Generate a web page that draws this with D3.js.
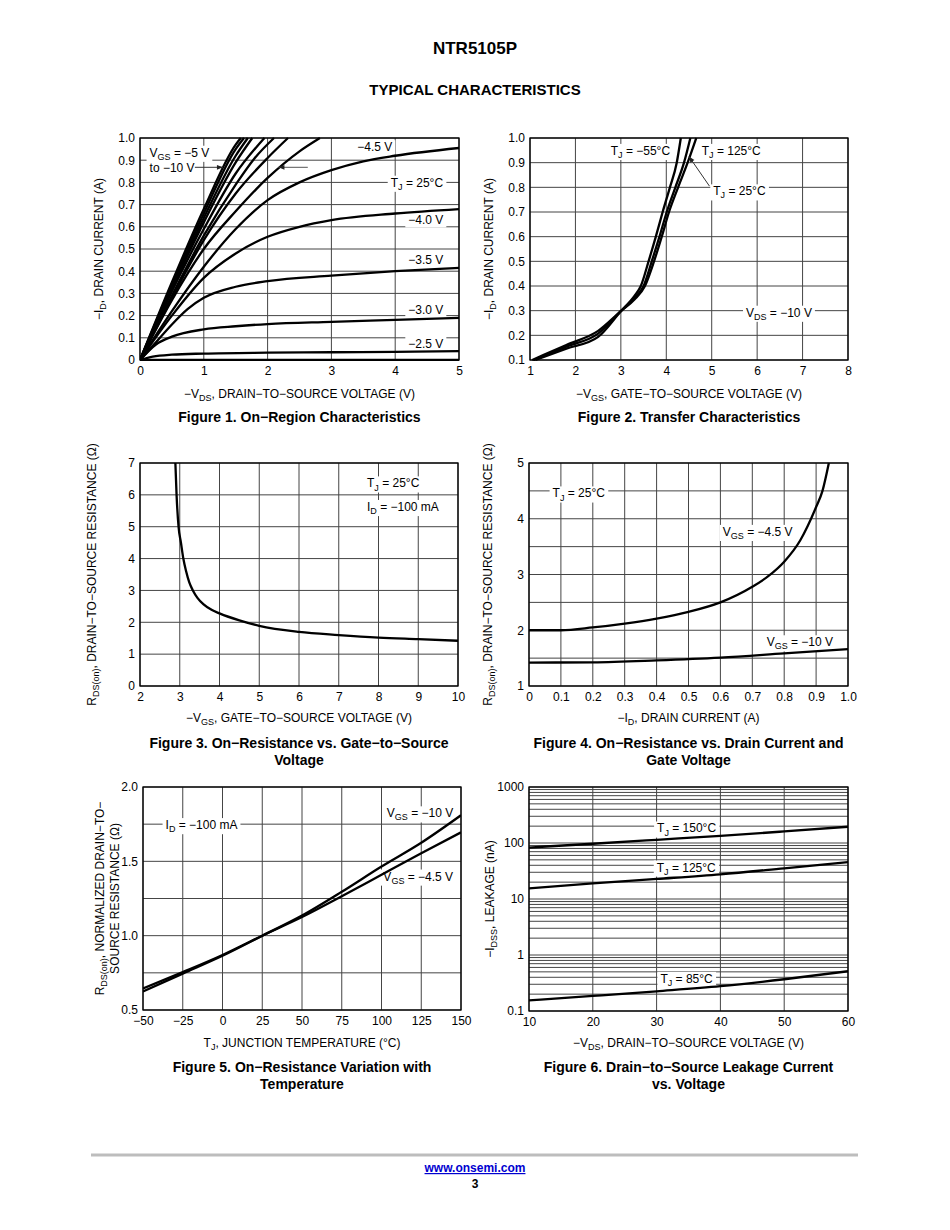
<!DOCTYPE html>
<html>
<head>
<meta charset="utf-8">
<script src="https://cdn.jsdelivr.net/npm/d3@7"></script>
<style>
  body { margin: 0; background: #fff; }
  svg { display: block; }
</style>
</head>
<body>
<div id="page"></div>
<script>
const FONT = '"Liberation Sans", Arial, Helvetica, sans-serif';

// Figure 1: -ID vs -VDS, one curve per VGS  ([VDS, ID] pairs)
const f1_vgsOff = [[0, 0], [5, 0]];
const f1_vgs2p5 = [[0, 0], [0.2, 0.015], [0.5, 0.024], [1, 0.029], [2, 0.033], [3, 0.035], [4, 0.037], [5, 0.04]];
const f1_vgs3p0 = [[0, 0], [0.25, 0.07], [0.5, 0.105], [1, 0.138], [1.5, 0.152], [2, 0.162], [3, 0.172], [4, 0.181], [5, 0.19]];
const f1_vgs3p5 = [[0, 0], [0.25, 0.08], [0.5, 0.16], [0.75, 0.23], [1, 0.28], [1.5, 0.33], [2, 0.355], [3, 0.38], [4, 0.4], [5, 0.415]];
const f1_vgs4p0 = [[0, 0], [0.5, 0.2], [1, 0.37], [1.5, 0.48], [2, 0.555], [2.5, 0.6], [3, 0.63], [4, 0.66], [5, 0.68]];
const f1_vgs4p5 = [[0, 0], [0.5, 0.22], [1, 0.42], [1.5, 0.59], [2, 0.72], [2.5, 0.8], [3, 0.855], [3.5, 0.895], [4, 0.92], [5, 0.955]];
const f1_vgs5p0 = [[0, 0], [0.5, 0.27], [1, 0.5], [1.5, 0.67], [2, 0.82], [2.5, 0.94], [2.82, 1.0]];
const f1_vgs5p5 = [[0, 0], [0.5, 0.28], [1, 0.54], [1.5, 0.75], [2, 0.91], [2.32, 1.0]];
const f1_vgs6p0 = [[0, 0], [0.5, 0.29], [1, 0.56], [1.5, 0.79], [1.8, 0.91], [2.1, 1.0]];
const f1_vgs6p5 = [[0, 0], [0.5, 0.31], [1, 0.59], [1.5, 0.84], [1.95, 1.0]];
const f1_vgs7p0 = [[0, 0], [0.5, 0.32], [1, 0.62], [1.5, 0.89], [1.76, 1.0]];
const f1_vgs8p0 = [[0, 0], [0.5, 0.33], [1, 0.64], [1.5, 0.92], [1.69, 1.0]];
const f1_vgs9p0 = [[0, 0], [0.5, 0.34], [1, 0.66], [1.5, 0.95], [1.63, 1.0]];
const f1_vgs10 = [[0, 0], [0.5, 0.35], [1, 0.68], [1.5, 0.97], [1.58, 1.0]];

// Figure 2: -ID vs -VGS per junction temperature ([VGS, ID] pairs)
const f2_tjm55 = [[1.12, 0.1], [1.8, 0.146], [2.5, 0.194], [3, 0.298], [3.3, 0.36], [3.44, 0.4], [3.61, 0.5], [3.77, 0.6], [3.92, 0.7], [4.08, 0.8], [4.23, 0.9], [4.32, 1.0]];
const f2_tj25 = [[1.08, 0.1], [1.8, 0.154], [2.5, 0.207], [3, 0.298], [3.3, 0.35], [3.5, 0.4], [3.68, 0.5], [3.85, 0.6], [4.01, 0.7], [4.2, 0.8], [4.39, 0.9], [4.53, 1.0]];
const f2_tj125 = [[1.05, 0.1], [1.8, 0.161], [2.5, 0.218], [3, 0.298], [3.3, 0.345], [3.53, 0.4], [3.73, 0.5], [3.9, 0.6], [4.06, 0.7], [4.26, 0.8], [4.47, 0.9], [4.66, 1.0]];

// Figure 3: RDS(on) vs -VGS
const f3_vgs = [2.89, 2.92, 2.97, 3.03, 3.09, 3.16, 3.24, 3.33, 3.45, 3.6, 3.8, 4, 4.5, 5, 6, 7, 8, 9, 10];
const f3_rds = [7, 6, 5, 4.5, 4, 3.6, 3.25, 3.0, 2.76, 2.56, 2.39, 2.28, 2.06, 1.89, 1.7, 1.6, 1.52, 1.47, 1.42];

// Figure 4: RDS(on) vs -ID
const f4_id45 = [0, 0.1, 0.2, 0.3, 0.4, 0.5, 0.6, 0.7, 0.75, 0.8, 0.85, 0.9, 0.92, 0.94];
const f4_rds45 = [2.0, 2.0, 2.05, 2.12, 2.21, 2.33, 2.5, 2.78, 2.97, 3.23, 3.61, 4.21, 4.5, 5.0];
const f4_id10 = [0, 0.2, 0.4, 0.6, 0.8, 1.0];
const f4_rds10 = [1.42, 1.425, 1.46, 1.51, 1.585, 1.66];

// Figure 5: normalized RDS(on) vs TJ
const f5_tj = [-50, -25, 0, 25, 50, 75, 100, 125, 150];
const f5_rds10 = [0.625, 0.745, 0.865, 1.0, 1.135, 1.295, 1.465, 1.625, 1.81];
const f5_rds45 = [0.645, 0.755, 0.87, 1.0, 1.125, 1.265, 1.41, 1.555, 1.695];

// Figure 6: -IDSS leakage (nA) vs -VDS
const f6_vds = [10, 20, 30, 40, 50, 60];
const f6_i150 = [83, 97, 114, 134, 161, 195];
const f6_i125 = [15.5, 19, 22.8, 27.6, 35.3, 45.4];
const f6_i85 = [0.155, 0.186, 0.225, 0.277, 0.369, 0.513];

// tick / grid values
const f1_xTicks = [0, 1, 2, 3, 4, 5];
const f1_yTicks = [0, 0.1, 0.2, 0.3, 0.4, 0.5, 0.6, 0.7, 0.8, 0.9, 1.0];
const f2_xTicks = [1, 2, 3, 4, 5, 6, 7, 8];
const f2_yTicks = [0.1, 0.2, 0.3, 0.4, 0.5, 0.6, 0.7, 0.8, 0.9, 1.0];
const f3_xTicks = [2, 3, 4, 5, 6, 7, 8, 9, 10];
const f3_yTicks = [0, 1, 2, 3, 4, 5, 6, 7];
const f4_xTicks = [0, 0.1, 0.2, 0.3, 0.4, 0.5, 0.6, 0.7, 0.8, 0.9, 1.0];
const f4_yTicks = [1, 2, 3, 4, 5];
const f4_yGrid = [1, 1.5, 2, 2.5, 3, 3.5, 4, 4.5, 5];
const f5_xTicks = [-50, -25, 0, 25, 50, 75, 100, 125, 150];
const f5_yTicks = [0.5, 1.0, 1.5, 2.0];
const f5_yGrid = [0.5, 0.75, 1.0, 1.25, 1.5, 1.75, 2.0];
const f6_xTicks = [10, 20, 30, 40, 50, 60];
const f6_yTicks = [0.1, 1, 10, 100, 1000];

const svg = d3.select("#page").append("svg")
  .attr("width", 950).attr("height", 1230)
  .attr("font-family", FONT);

svg.append("defs").append("marker")
  .attr("id", "arrow")
  .attr("viewBox", "0 0 10 10")
  .attr("refX", 10).attr("refY", 5)
  .attr("markerUnits", "userSpaceOnUse")
  .attr("markerWidth", 8).attr("markerHeight", 6)
  .attr("orient", "auto")
  .append("path").attr("d", "M0,1L10,5L0,9Z").attr("fill", "#222");

// text with _{subscript} markup
function rich(t, str, fs) {
  const sh = fs * 0.26;
  let down = false;
  str.split(/(_\{[^}]*\})/).filter(p => p.length).forEach(p => {
    if (p.startsWith("_{")) {
      t.append("tspan").attr("dy", sh).attr("font-size", fs * 0.75).text(p.slice(2, -1));
      down = true;
    } else {
      const ts = t.append("tspan").text(p);
      if (down) ts.attr("dy", -sh);
      down = false;
    }
  });
  return t;
}

function panel(box, xs, ys, o) {
  const g = svg.append("g");
  const grid = g.append("g").attr("stroke", "#454545").attr("stroke-width", 1);
  grid.selectAll("line.v").data(o.xGrid).join("line").attr("class", "v")
    .attr("x1", d => xs(d)).attr("x2", d => xs(d)).attr("y1", box.t).attr("y2", box.b);
  grid.selectAll("line.h").data(o.yGrid).join("line").attr("class", "h")
    .attr("y1", d => ys(d)).attr("y2", d => ys(d)).attr("x1", box.l).attr("x2", box.r);

  // white boxes go under all note texts
  const bg = g.append("g");
  const notes = g.append("g");
  notes.bg = bg;
  const id = "clip" + Math.round(box.l) + "_" + Math.round(box.t);
  svg.select("defs").append("clipPath").attr("id", id)
    .append("rect").attr("x", box.l).attr("y", box.t - 1)
    .attr("width", box.r - box.l).attr("height", box.b - box.t + 2);
  g.append("rect").attr("x", box.l).attr("y", box.t)
    .attr("width", box.r - box.l).attr("height", box.b - box.t)
    .attr("fill", "none").attr("stroke", "#000").attr("stroke-width", 1.3);
  const curves = g.append("g").attr("clip-path", `url(#${id})`)
    .attr("fill", "none").attr("stroke", "#000").attr("stroke-width", 2.3)
    .attr("stroke-linejoin", "round");

  const ax = g.append("g").attr("transform", `translate(0,${box.b})`)
    .call(d3.axisBottom(xs).tickValues(o.xTicks).tickFormat(o.xFmt).tickSize(0).tickPadding(6));
  ax.select(".domain").remove();
  ax.attr("font-size", 12).attr("font-family", FONT);
  const ay = g.append("g").attr("transform", `translate(${box.l},0)`)
    .call(d3.axisLeft(ys).tickValues(o.yTicks).tickFormat(o.yFmt).tickSize(0).tickPadding(5));
  ay.select(".domain").remove();
  ay.attr("font-size", 12).attr("font-family", FONT);

  // axis titles
  rich(g.append("text").attr("x", (box.l + box.r) / 2).attr("y", o.xTitleY)
    .attr("text-anchor", "middle").attr("font-size", 12), o.xTitle, 12);
  o.yTitle.forEach((s, i) => {
    rich(g.append("text")
      .attr("transform", `translate(${o.yTitleX[i]},${(box.t + box.b) / 2}) rotate(-90)`)
      .attr("text-anchor", "middle").attr("font-size", 12), s, 12);
  });
  // caption
  o.caption.forEach((s, i) => {
    g.append("text").attr("x", (box.l + box.r) / 2).attr("y", o.captionY + i * 17)
      .attr("text-anchor", "middle").attr("font-size", 14).attr("font-weight", "bold").text(s);
  });
  return { g, notes, curves };
}

function note(sel, x, y, str, anchor) {
  const t = sel.append("text").attr("x", x).attr("y", y).attr("dy", "0.36em")
    .attr("text-anchor", anchor || "middle").attr("font-size", 12);
  rich(t, str, 12);
  const bb = t.node().getBBox();
  sel.bg.append("rect")
    .attr("x", bb.x - 3).attr("y", bb.y).attr("width", bb.width + 6).attr("height", bb.height)
    .attr("fill", "#fff");
}

const fmt1 = d => d === 0 ? "0" : d3.format(".1f")(d);
const fmtG = d => String(d);

// ---- header / footer
svg.append("text").attr("x", 475).attr("y", 54).attr("text-anchor", "middle")
  .attr("font-size", 17).attr("font-weight", "bold").text("NTR5105P");
svg.append("text").attr("x", 475).attr("y", 95).attr("text-anchor", "middle")
  .attr("font-size", 15).attr("font-weight", "bold").text("TYPICAL CHARACTERISTICS");
svg.append("line").attr("x1", 91).attr("x2", 858).attr("y1", 1155).attr("y2", 1155)
  .attr("stroke", "#bdbdbd").attr("stroke-width", 3);
svg.append("text").attr("x", 475).attr("y", 1172).attr("text-anchor", "middle")
  .attr("font-size", 12).attr("font-weight", "bold").attr("fill", "#0000d0")
  .attr("text-decoration", "underline").text("www.onsemi.com");
svg.append("text").attr("x", 475).attr("y", 1188).attr("text-anchor", "middle")
  .attr("font-size", 12).attr("font-weight", "bold").text("3");

const pathOf = (xs, ys) => d3.line().x(d => xs(d[0])).y(d => ys(d[1])).curve(d3.curveMonotoneX);

// ---- Figure 1
{
  const box = { l: 140, r: 459, t: 138, b: 360 };
  const xs = d3.scaleLinear([0, 5], [box.l, box.r]);
  const ys = d3.scaleLinear([0, 1], [box.b, box.t]);
  const p = panel(box, xs, ys, {
    xGrid: f1_xTicks, yGrid: f1_yTicks, xTicks: f1_xTicks, yTicks: f1_yTicks,
    xFmt: fmtG, yFmt: fmt1,
    xTitle: "\u2212V_{DS}, DRAIN\u2212TO\u2212SOURCE VOLTAGE (V)", xTitleY: 398,
    yTitle: ["\u2212I_{D}, DRAIN CURRENT (A)"], yTitleX: [103],
    caption: ["Figure 1. On\u2212Region Characteristics"], captionY: 422
  });
  note(p.notes, xs(0.15), ys(0.935), "V_{GS} = \u22125 V", "start");
  note(p.notes, xs(0.15), ys(0.866), "to \u221210 V", "start");
  note(p.notes, xs(3.68), ys(0.96), "\u22124.5 V");
  note(p.notes, xs(4.34), ys(0.80), "T_{J} = 25\u00b0C");
  note(p.notes, xs(4.48), ys(0.63), "\u22124.0 V");
  note(p.notes, xs(4.48), ys(0.45), "\u22123.5 V");
  note(p.notes, xs(4.48), ys(0.225), "\u22123.0 V");
  note(p.notes, xs(4.48), ys(0.075), "\u22122.5 V");
  const curves = [f1_vgsOff, f1_vgs2p5, f1_vgs3p0, f1_vgs3p5, f1_vgs4p0, f1_vgs4p5,
    f1_vgs5p0, f1_vgs5p5, f1_vgs6p0, f1_vgs6p5, f1_vgs7p0, f1_vgs8p0, f1_vgs9p0, f1_vgs10];
  p.curves.selectAll("path").data(curves).join("path").attr("d", pathOf(xs, ys));
  p.g.append("line").attr("x1", xs(0.86)).attr("x2", xs(1.3)).attr("y1", ys(0.868)).attr("y2", ys(0.868))
    .attr("stroke", "#333").attr("stroke-width", 1).attr("marker-end", "url(#arrow)");
  p.g.append("line").attr("x1", xs(2.63)).attr("x2", xs(2.17)).attr("y1", ys(0.868)).attr("y2", ys(0.868))
    .attr("stroke", "#555").attr("stroke-width", 1).attr("marker-end", "url(#arrow)");
}

// ---- Figure 2
{
  const box = { l: 530, r: 848, t: 138, b: 360 };
  const xs = d3.scaleLinear([1, 8], [box.l, box.r]);
  const ys = d3.scaleLinear([0.1, 1], [box.b, box.t]);
  const p = panel(box, xs, ys, {
    xGrid: f2_xTicks, yGrid: f2_yTicks, xTicks: f2_xTicks, yTicks: f2_yTicks,
    xFmt: fmtG, yFmt: fmt1,
    xTitle: "\u2212V_{GS}, GATE\u2212TO\u2212SOURCE VOLTAGE (V)", xTitleY: 398,
    yTitle: ["\u2212I_{D}, DRAIN CURRENT (A)"], yTitleX: [493],
    caption: ["Figure 2. Transfer Characteristics"], captionY: 422
  });
  note(p.notes, xs(3.43), ys(0.949), "T_{J} = \u221255\u00b0C");
  note(p.notes, xs(5.43), ys(0.949), "T_{J} = 125\u00b0C");
  note(p.notes, xs(5.61), ys(0.785), "T_{J} = 25\u00b0C");
  note(p.notes, xs(6.48), ys(0.293), "V_{DS} = \u221210 V");
  p.curves.selectAll("path").data([f2_tjm55, f2_tj25, f2_tj125]).join("path").attr("d", pathOf(xs, ys));
  p.g.append("line").attr("x1", xs(4.95)).attr("y1", ys(0.805)).attr("x2", xs(4.5)).attr("y2", ys(0.925))
    .attr("stroke", "#333").attr("stroke-width", 1).attr("marker-end", "url(#arrow)");
}

// ---- Figure 3
{
  const box = { l: 140, r: 458, t: 463, b: 686 };
  const xs = d3.scaleLinear([2, 10], [box.l, box.r]);
  const ys = d3.scaleLinear([0, 7], [box.b, box.t]);
  const p = panel(box, xs, ys, {
    xGrid: f3_xTicks, yGrid: f3_yTicks, xTicks: f3_xTicks, yTicks: f3_yTicks,
    xFmt: fmtG, yFmt: fmtG,
    xTitle: "\u2212V_{GS}, GATE\u2212TO\u2212SOURCE VOLTAGE (V)", xTitleY: 722,
    yTitle: ["R_{DS(on)}, DRAIN\u2212TO\u2212SOURCE RESISTANCE (\u03a9)"], yTitleX: [96],
    caption: ["Figure 3. On\u2212Resistance vs. Gate\u2212to\u2212Source", "Voltage"], captionY: 748
  });
  note(p.notes, xs(7.71), ys(6.37), "T_{J} = 25\u00b0C", "start");
  note(p.notes, xs(7.71), ys(5.63), "I_{D} = \u2212100 mA", "start");
  p.curves.append("path").attr("d", pathOf(xs, ys)(d3.zip(f3_vgs, f3_rds)));
}

// ---- Figure 4
{
  const box = { l: 529, r: 848, t: 463, b: 686 };
  const xs = d3.scaleLinear([0, 1], [box.l, box.r]);
  const ys = d3.scaleLinear([1, 5], [box.b, box.t]);
  const p = panel(box, xs, ys, {
    xGrid: f4_xTicks, yGrid: f4_yGrid, xTicks: f4_xTicks, yTicks: f4_yTicks,
    xFmt: fmt1, yFmt: fmtG,
    xTitle: "\u2212I_{D}, DRAIN CURRENT (A)", xTitleY: 722,
    yTitle: ["R_{DS(on)}, DRAIN\u2212TO\u2212SOURCE RESISTANCE (\u03a9)"], yTitleX: [492],
    caption: ["Figure 4. On\u2212Resistance vs. Drain Current and", "Gate Voltage"], captionY: 748
  });
  note(p.notes, xs(0.156), ys(4.46), "T_{J} = 25\u00b0C");
  note(p.notes, xs(0.717), ys(3.77), "V_{GS} = \u22124.5 V");
  note(p.notes, xs(0.849), ys(1.79), "V_{GS} = \u221210 V");
  p.curves.selectAll("path")
    .data([d3.zip(f4_id45, f4_rds45), d3.zip(f4_id10, f4_rds10)])
    .join("path").attr("d", pathOf(xs, ys));
}

// ---- Figure 5
{
  const box = { l: 143, r: 461, t: 787, b: 1010 };
  const xs = d3.scaleLinear([-50, 150], [box.l, box.r]);
  const ys = d3.scaleLinear([0.5, 2], [box.b, box.t]);
  const p = panel(box, xs, ys, {
    xGrid: f5_xTicks, yGrid: f5_yGrid, xTicks: f5_xTicks, yTicks: f5_yTicks,
    xFmt: d3.format("d"), yFmt: d3.format(".1f"),
    xTitle: "T_{J}, JUNCTION TEMPERATURE (\u00b0C)", xTitleY: 1047,
    yTitle: ["R_{DS(on)}, NORMALIZED DRAIN\u2212TO\u2212", "SOURCE RESISTANCE (\u03a9)"], yTitleX: [104, 119],
    caption: ["Figure 5. On\u2212Resistance Variation with", "Temperature"], captionY: 1072
  });
  note(p.notes, xs(-13.2), ys(1.746), "I_{D} = \u2212100 mA");
  note(p.notes, xs(124.2), ys(1.825), "V_{GS} = \u221210 V");
  note(p.notes, xs(123.1), ys(1.40), "V_{GS} = \u22124.5 V");
  p.curves.selectAll("path")
    .data([d3.zip(f5_tj, f5_rds10), d3.zip(f5_tj, f5_rds45)])
    .join("path").attr("d", pathOf(xs, ys));
}

// ---- Figure 6
{
  const box = { l: 529, r: 848, t: 787, b: 1011 };
  const xs = d3.scaleLinear([10, 60], [box.l, box.r]);
  const ys = d3.scaleLog([0.1, 1000], [box.b, box.t]);
  const p = panel(box, xs, ys, {
    xGrid: f6_xTicks, yGrid: ys.ticks(), xTicks: f6_xTicks, yTicks: f6_yTicks,
    xFmt: fmtG, yFmt: fmtG,
    xTitle: "\u2212V_{DS}, DRAIN\u2212TO\u2212SOURCE VOLTAGE (V)", xTitleY: 1047,
    yTitle: ["\u2212I_{DSS}, LEAKAGE (nA)"], yTitleX: [494],
    caption: ["Figure 6. Drain\u2212to\u2212Source Leakage Current", "vs. Voltage"], captionY: 1072
  });
  note(p.notes, xs(34.7), ys(184), "T_{J} = 150\u00b0C");
  note(p.notes, xs(34.65), ys(37), "T_{J} = 125\u00b0C");
  note(p.notes, xs(34.7), ys(0.38), "T_{J} = 85\u00b0C");
  p.curves.selectAll("path")
    .data([d3.zip(f6_vds, f6_i150), d3.zip(f6_vds, f6_i125), d3.zip(f6_vds, f6_i85)])
    .join("path").attr("d", pathOf(xs, ys));
}
</script>
</body>
</html>
